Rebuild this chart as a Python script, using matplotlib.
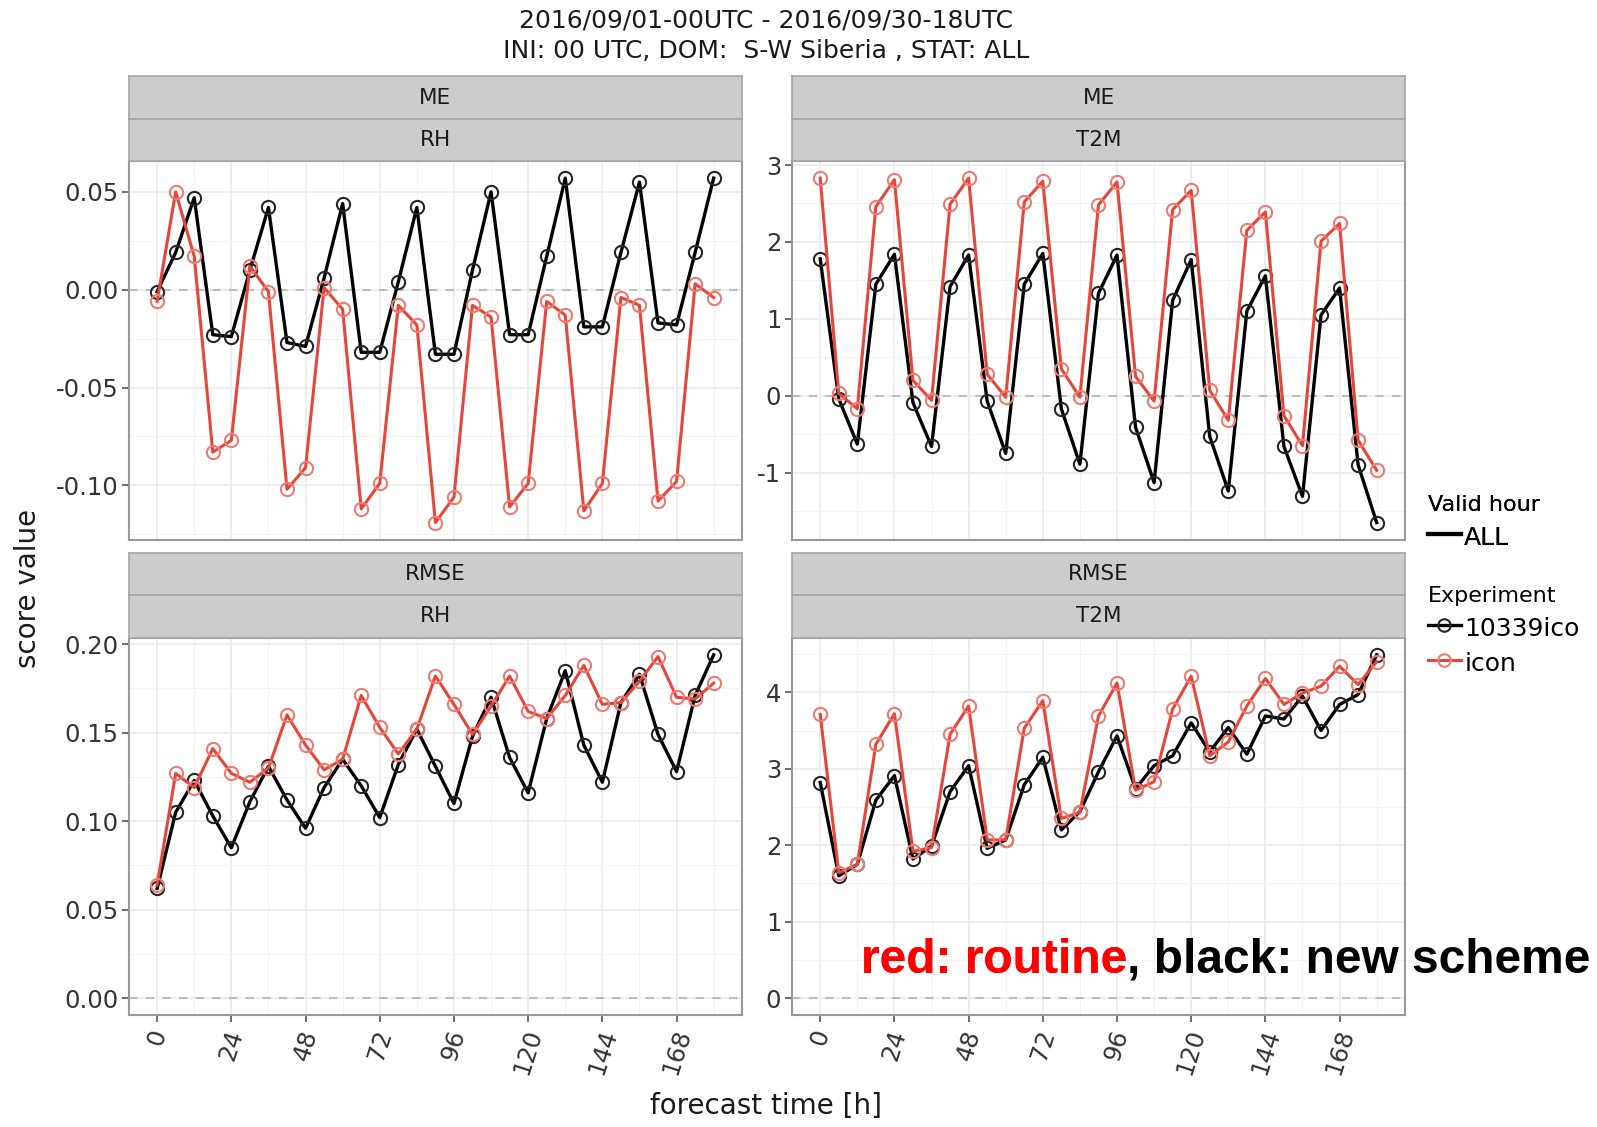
import matplotlib
matplotlib.use("Agg")
import matplotlib.pyplot as plt
from matplotlib.lines import Line2D
from matplotlib.ticker import FixedLocator, FormatStrFormatter

plt.rcParams["font.family"] = ["DejaVu Sans"]
plt.rcParams["axes.unicode_minus"] = False

# lead times (h) and scores per experiment
lead_hours = list(range(0, 181, 6))

me_rh_new = [-0.001, 0.019, 0.047, -0.023, -0.024, 0.010, 0.042, -0.027, -0.029, 0.006, 0.044,
             -0.032, -0.032, 0.004, 0.042, -0.033, -0.033, 0.010, 0.050, -0.023, -0.023, 0.017,
             0.057, -0.019, -0.019, 0.019, 0.055, -0.017, -0.018, 0.019, 0.057]
me_rh_ref = [-0.006, 0.050, 0.017, -0.083, -0.077, 0.012, -0.001, -0.102, -0.091, 0.001, -0.010,
             -0.112, -0.099, -0.008, -0.018, -0.119, -0.106, -0.008, -0.014, -0.111, -0.099, -0.006,
             -0.013, -0.113, -0.099, -0.004, -0.008, -0.108, -0.098, 0.003, -0.004]

me_t2m_new = [1.78, -0.04, -0.63, 1.45, 1.84, -0.09, -0.66, 1.42, 1.83, -0.07, -0.75, 1.45, 1.85,
              -0.17, -0.89, 1.33, 1.83, -0.41, -1.13, 1.24, 1.77, -0.53, -1.24, 1.10, 1.56, -0.66,
              -1.31, 1.05, 1.40, -0.90, -1.65]
me_t2m_ref = [2.83, 0.03, -0.17, 2.46, 2.81, 0.20, -0.06, 2.49, 2.83, 0.28, -0.02, 2.52, 2.79, 0.35,
              -0.02, 2.48, 2.78, 0.25, -0.07, 2.42, 2.67, 0.07, -0.32, 2.15, 2.39, -0.26, -0.65,
              2.01, 2.24, -0.58, -0.97]

rmse_rh_new = [0.062, 0.105, 0.123, 0.103, 0.085, 0.111, 0.131, 0.112, 0.096, 0.119, 0.135, 0.120,
               0.102, 0.132, 0.152, 0.131, 0.110, 0.148, 0.170, 0.136, 0.116, 0.158, 0.185, 0.143,
               0.122, 0.167, 0.183, 0.149, 0.128, 0.171, 0.194]
rmse_rh_ref = [0.064, 0.127, 0.119, 0.141, 0.127, 0.122, 0.130, 0.160, 0.143, 0.129, 0.135, 0.171,
               0.153, 0.138, 0.152, 0.182, 0.166, 0.149, 0.165, 0.182, 0.162, 0.158, 0.171, 0.188,
               0.166, 0.167, 0.179, 0.193, 0.170, 0.169, 0.178]

rmse_t2m_new = [2.82, 1.60, 1.75, 2.59, 2.91, 1.82, 1.99, 2.70, 3.04, 1.96, 2.07, 2.79, 3.15, 2.20,
                2.44, 2.96, 3.43, 2.74, 3.04, 3.17, 3.60, 3.22, 3.54, 3.19, 3.69, 3.65, 3.95, 3.50,
                3.84, 3.97, 4.49]
rmse_t2m_ref = [3.71, 1.64, 1.75, 3.32, 3.72, 1.92, 1.97, 3.45, 3.82, 2.07, 2.07, 3.53, 3.89, 2.35,
                2.43, 3.69, 4.12, 2.72, 2.83, 3.78, 4.21, 3.17, 3.35, 3.82, 4.18, 3.84, 3.99, 4.08,
                4.34, 4.10, 4.40]

x_ticks = [0, 24, 48, 72, 96, 120, 144, 168]
yticks_me_rh = [-0.10, -0.05, 0.00, 0.05]
yticks_me_t2m = [-1, 0, 1, 2, 3]
yticks_rmse_rh = [0.00, 0.05, 0.10, 0.15, 0.20]
yticks_rmse_t2m = [0, 1, 2, 3, 4]

BLACK = "#000000"
RED = "#E5463B"
W, H = 1597, 1127

fig = plt.figure(figsize=(W / 100, H / 100), dpi=100)


def fx(px):
    return px / W


def fy(px):
    return 1 - px / H


def strip(left, right, top, bottom, label):
    s = fig.add_axes([fx(left), fy(bottom), fx(right - left), fy(top) - fy(bottom)])
    s.set_facecolor("#CCCCCC")
    s.set_xticks([]); s.set_yticks([])
    for sp in s.spines.values():
        sp.set_color("#A6A6A6"); sp.set_linewidth(1.2)
    s.text(0.5, 0.5, label, ha="center", va="center", fontsize=15.5, color="#1A1A1A",
           transform=s.transAxes)


def panel(left, right, top, bottom, new, ref, yticks, yfmt, strips, xlabels):
    ax = fig.add_axes([fx(left), fy(bottom), fx(right - left), fy(top) - fy(bottom)])
    ax.axhline(0, color="#BDBDBD", lw=1.5, ls=(0, (4, 4)), zorder=1)
    ax.plot(lead_hours, new, color=BLACK, lw=2.4, marker="o", ms=9.5, mfc="none",
            mec="#262626", mew=1.5, zorder=3)
    ax.plot(lead_hours, ref, color=RED, lw=2.2, marker="o", ms=9.5, mfc="none",
            mec="#EE7A70", mew=1.5, zorder=4)
    ax.set_xlim(-9, 189)
    ax.margins(y=0.05)
    ax.xaxis.set_major_locator(FixedLocator(x_ticks))
    ax.xaxis.set_minor_locator(FixedLocator([12, 36, 60, 84, 108, 132, 156, 180]))
    ax.yaxis.set_major_locator(FixedLocator(yticks))
    step = yticks[1] - yticks[0]
    ax.yaxis.set_minor_locator(FixedLocator([t + step / 2 for t in [yticks[0] - step] + yticks]))
    ax.yaxis.set_major_formatter(FormatStrFormatter(yfmt))
    ax.grid(which="major", color="#EBEBEB", lw=1.2)
    ax.grid(which="minor", color="#F3F3F3", lw=0.7)
    ax.set_axisbelow(True)
    for sp in ax.spines.values():
        sp.set_color("#999999"); sp.set_linewidth(1.5)
    ax.tick_params(which="minor", length=0)
    ax.tick_params(axis="y", length=5, width=1.2, color="#555555", labelsize=17.5,
                   labelcolor="#333333", pad=3)
    if xlabels:
        ax.tick_params(axis="x", length=5, width=1.2, color="#555555", labelsize=17.5,
                       labelcolor="#333333", pad=3)
        ax.set_xticklabels([str(t) for t in x_ticks], rotation=72, ha="center", va="top")
    else:
        ax.tick_params(axis="x", length=0, labelbottom=False)
    # facet strips stacked above the panel
    h_strip = (top - strips[0]) / 2.0
    strip(left, right, strips[0], strips[0] + h_strip, strips[1])
    strip(left, right, strips[0] + h_strip, top, strips[2])
    return ax


L1, R1, L2, R2 = 129.3, 741.5, 792.4, 1404.5
panel(L1, R1, 160.9, 539.8, me_rh_new, me_rh_ref, yticks_me_rh, "%.2f", (76.4, "ME", "RH"), False)
panel(L2, R2, 160.9, 539.8, me_t2m_new, me_t2m_ref, yticks_me_t2m, "%d", (76.4, "ME", "T2M"), False)
panel(L1, R1, 637.6, 1015.4, rmse_rh_new, rmse_rh_ref, yticks_rmse_rh, "%.2f",
      (553.0, "RMSE", "RH"), True)
ax_br = panel(L2, R2, 637.6, 1015.4, rmse_t2m_new, rmse_t2m_ref, yticks_rmse_t2m, "%d",
              (553.0, "RMSE", "T2M"), True)

# titles
fig.text(fx(766), fy(21), "2016/09/01-00UTC - 2016/09/30-18UTC", ha="center", va="center",
         fontsize=18, color="#1A1A1A")
fig.text(fx(766), fy(51), "INI: 00 UTC, DOM:  S-W Siberia , STAT: ALL", ha="center",
         va="center", fontsize=18, color="#1A1A1A")
fig.text(fx(766), fy(1106), "forecast time [h]", ha="center", va="center", fontsize=20,
         color="#1A1A1A")
fig.text(fx(28), fy(588), "score value", ha="center", va="center", rotation=90, fontsize=20,
         color="#1A1A1A")

# legends
leg_kw = dict(loc="upper left", frameon=False, fontsize=18, title_fontsize=16,
              alignment="left", handlelength=1.3, handleheight=1.2, handletextpad=0.15,
              labelspacing=0.35, borderpad=0, borderaxespad=0)
h_all = [Line2D([], [], color="black", lw=3)]
leg1 = fig.legend(h_all, ["ALL"], title="Valid hour",
                  bbox_to_anchor=(fx(1428), fy(495)), **leg_kw)
h_exp = [Line2D([], [], color=BLACK, lw=2.4, marker="o", ms=9, mfc="none", mec="#262626", mew=1.5),
         Line2D([], [], color=RED, lw=2.2, marker="o", ms=9, mfc="none", mec="#EE7A70", mew=1.5)]
leg2 = fig.legend(h_exp, ["10339ico", "icon"], title="Experiment",
                  bbox_to_anchor=(fx(1428), fy(586)), **leg_kw)
fig.add_artist(leg1)

# coloured note inside the lower right panel
t1 = fig.text(fx(861), fy(973), "red: routine", color="#FF0000", fontsize=34.5,
              fontweight="bold", family="Liberation Sans", va="baseline", ha="left")
fig.add_artist(t1)
ax_br.annotate(", black: new scheme", xy=(1, 0), xycoords=t1, va="bottom", ha="left",
               color="black", fontsize=34.5, fontweight="bold", family="Liberation Sans",
               annotation_clip=False)

fig.savefig("out.png", dpi=100)
